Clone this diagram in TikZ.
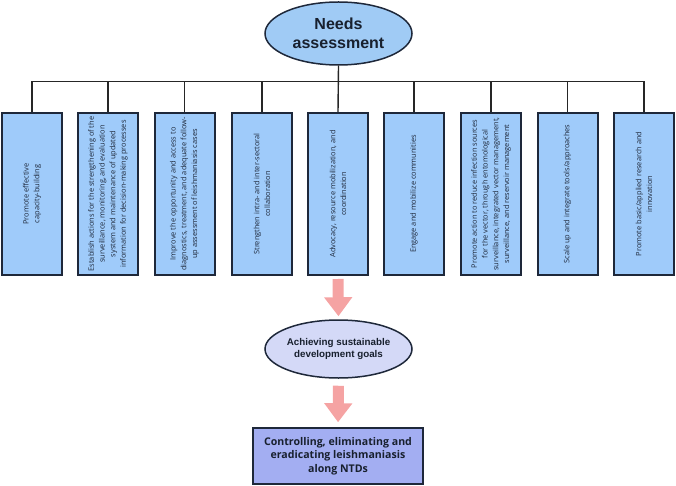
\documentclass[tikz,border=0pt]{standalone}
\usepackage{fontspec}
\setmainfont{Open Sans}
\newfontfamily\headfont{Liberation Sans}
\usepackage{xcolor}
\usepackage{tikz}
\usetikzlibrary{shapes}
\usetikzlibrary{arrows.meta}
\definecolor{boxblue}{RGB}{159,203,250}
\definecolor{ellblue}{RGB}{160,203,245}
\definecolor{sdglilac}{RGB}{212,217,247}
\definecolor{endblue}{RGB}{163,174,242}
\definecolor{arrowpink}{RGB}{245,163,163}
\definecolor{edgenavy}{RGB}{30,40,58}
\tikzset{ need_ell/.style = {ellipse, draw=edgenavy, line width=1.5pt, fill=ellblue, inner sep=0pt, minimum width=147pt, minimum height=63pt, align=center, text=edgenavy!80!black, font=\headfont\bfseries\fontsize{16}{19}\selectfont} }
\tikzset{ sdg_ell/.style = {ellipse, draw=edgenavy, line width=1.5pt, fill=sdglilac, inner sep=0pt, minimum width=147pt, minimum height=58pt, align=center, text=edgenavy!80!black, font=\headfont\bfseries\fontsize{9.8}{12}\selectfont} }
\tikzset{ action_box/.style = {rectangle, draw=edgenavy, line width=2pt, fill=boxblue, rotate=90, minimum width=162pt, minimum height=60pt, inner sep=0pt, align=center, text=edgenavy, font=\fontsize{7.4}{10.7}\selectfont} }
\tikzset{ end_box/.style = {rectangle, draw=edgenavy, line width=1.5pt, fill=endblue, minimum width=170pt, minimum height=56pt, inner sep=0pt, align=center, text=edgenavy!80!black, font=\bfseries\fontsize{10.6}{13.5}\selectfont} }
\tikzset{ branch/.style = {draw=black!85, line width=1.4pt} }
\tikzset{ goal_arrow/.style = {draw=arrowpink, line width=11pt, -{Triangle[width=27pt,length=19pt]}} }

\begin{document}
\begin{tikzpicture}[x=1pt,y=-1pt]
            \useasboundingbox (0,0) rectangle (676,486);
            \node [style=need_ell] (need) at (338.5, 33.5) {Needs\\assessment};
            \node [style=action_box] (B1) at (32, 194) {Promote effective\\capacity-building};
            \node [style=action_box] (B2) at (108, 194) {Establish actions for the strengthening of the\\surveillance, monitoring, and evaluation\\system and maintenance of updated\\information for decision-making processes};
            \node [style=action_box] (B3) at (184.5, 194) {Improve the opportunity and access to\\diagnostics, treatment, and adequate follow-\\up assessment of leishmaniasis cases};
            \node [style=action_box] (B4) at (262, 194) {Strengthen intra- and inter-sectoral\\collaboration};
            \node [style=action_box] (B5) at (338, 194) {Advocacy, resource mobilization, and\\coordination};
            \node [style=action_box] (B6) at (414, 194) {Engage and mobilize communities};
            \node [style=action_box] (B7) at (491, 194) {Promote action to reduce infection sources\\for the vector, through entomological\\surveillance, integrated vector management,\\surveillance, and reservoir management};
            \node [style=action_box] (B8) at (567.5, 194) {Scale up and integrate tools/approaches};
            \node [style=action_box] (B9) at (644, 194) {Promote basic/applied research and\\innovation};
            \node [style=sdg_ell] (sdg) at (338.5, 349) {Achieving sustainable\\development goals};
            \node [style=end_box] (ctrl) at (338, 456) {Controlling, eliminating and\\eradicating leishmaniasis\\along NTDs};
            % tree from the needs assessment
            \draw[branch] (need.south) -- ++(0,16) -| (B1.east);
            \draw[branch] (need.south) -- ++(0,16) -| (B2.east);
            \draw[branch] (need.south) -- ++(0,16) -| (B3.east);
            \draw[branch] (need.south) -- ++(0,16) -| (B4.east);
            \draw[branch] (need.south) -- (B5.east);
            \draw[branch] (need.south) -- ++(0,16) -| (B6.east);
            \draw[branch] (need.south) -- ++(0,16) -| (B7.east);
            \draw[branch] (need.south) -- ++(0,16) -| (B8.east);
            \draw[branch] (need.south) -- ++(0,16) -| (B9.east);
            % pink arrows
            \draw[goal_arrow, shorten <=3pt, shorten >=3pt] (B5.west) -- (sdg.north);
            \draw[goal_arrow, shorten <=7pt, shorten >=5pt] (sdg.south) -- (ctrl.north);
       \end{tikzpicture}
\end{document}
